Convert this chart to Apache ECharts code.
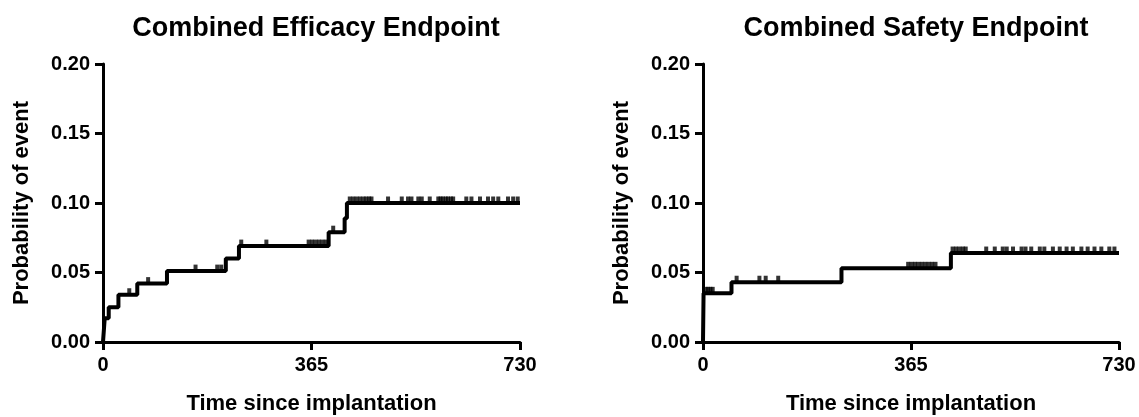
<!DOCTYPE html>
<html>
<head>
<meta charset="utf-8">
<script src="https://cdn.jsdelivr.net/npm/echarts@6/dist/echarts.min.js"></script>
<style>
  html, body { margin: 0; padding: 0; background: #fff; }
  #chart { width: 1139px; height: 417px; }
</style>
</head>
<body>
<div id="chart"></div>
<script>
// tick labels
var xTicks = [0, 365, 730];
var yTicks = [0, 0.05, 0.10, 0.15, 0.20];

// Combined Efficacy Endpoint: step points [day, probability] and censor marks
var efficacySteps = [
    [0, 0], [3, 0.017], [10, 0.025], [27, 0.034], [60, 0.042], [112, 0.051],
    [215, 0.060], [238, 0.069], [395, 0.079], [423, 0.089], [427, 0.100], [730, 0.100]
];
var efficacyCensored = [
    [46, 0.034], [79, 0.042], [162, 0.051], [200, 0.051], [207, 0.051],
    [242, 0.069], [286, 0.069], [360, 0.069], [366, 0.069], [372, 0.069], [378, 0.069], [384, 0.069], [390, 0.069],
    [403, 0.079],
    [432, 0.1], [438, 0.1], [444, 0.1], [450, 0.1], [456, 0.1], [461, 0.1], [466, 0.1], [470, 0.1],
    [499, 0.1], [523, 0.1], [534, 0.1], [540, 0.1], [552, 0.1], [558, 0.1], [572, 0.1],
    [587, 0.1], [591, 0.1], [595, 0.1], [600, 0.1], [604, 0.1], [609, 0.1], [613, 0.1],
    [636, 0.1], [645, 0.1], [660, 0.1], [674, 0.1], [683, 0.1], [692, 0.1], [709, 0.1], [718, 0.1], [726, 0.1]
];

// Combined Safety Endpoint
var safetySteps = [
    [0, 0], [1, 0.035], [50, 0.043], [243, 0.053], [435, 0.064], [730, 0.064]
];
var safetyCensored = [
    [5, 0.035], [9, 0.035], [13, 0.035], [17, 0.035],
    [59, 0.043], [99, 0.043], [110, 0.043], [132, 0.043],
    [360, 0.053], [366, 0.053], [372, 0.053], [378, 0.053], [384, 0.053], [390, 0.053], [396, 0.053], [402, 0.053], [408, 0.053],
    [438, 0.064], [444, 0.064], [450, 0.064], [456, 0.064], [461, 0.064], [497, 0.064], [512, 0.064],
    [526, 0.064], [533, 0.064], [544, 0.064], [559, 0.064], [566, 0.064], [576, 0.064], [591, 0.064],
    [599, 0.064], [614, 0.064], [626, 0.064], [638, 0.064], [649, 0.064], [664, 0.064], [675, 0.064],
    [687, 0.064], [699, 0.064], [713, 0.064], [722, 0.064]
];

var FONT = '"Liberation Sans", Arial, Helvetica, sans-serif';

function xAxisFor(idx) {
    return {
        type: 'value', gridIndex: idx,
        min: xTicks[0], max: xTicks[xTicks.length - 1], interval: xTicks[1] - xTicks[0],
        name: 'Time since implantation', nameLocation: 'middle', nameGap: 51,
        nameTextStyle: { color: '#000', fontSize: 22, fontWeight: 'bold', fontFamily: FONT },
        axisLine: { lineStyle: { color: '#000', width: 3 } },
        axisTick: { length: 8, lineStyle: { color: '#000', width: 3 } },
        axisLabel: { color: '#000', fontSize: 20, fontWeight: 'bold', fontFamily: FONT, margin: 13 },
        splitLine: { show: false }
    };
}

function yAxisFor(idx) {
    return {
        type: 'value', gridIndex: idx,
        min: yTicks[0], max: yTicks[yTicks.length - 1], interval: yTicks[1] - yTicks[0],
        name: 'Probability of event', nameLocation: 'middle', nameGap: 70,
        nameTextStyle: { color: '#000', fontSize: 22, fontWeight: 'bold', fontFamily: FONT },
        axisLine: { show: true, lineStyle: { color: '#000', width: 3 } },
        axisTick: { show: true, length: 8, lineStyle: { color: '#000', width: 3 } },
        axisLabel: {
            color: '#000', fontSize: 20, fontWeight: 'bold', fontFamily: FONT, margin: 13,
            formatter: function (v) { return v.toFixed(2); }
        },
        splitLine: { show: false }
    };
}

function stepSeries(idx, data) {
    return {
        type: 'line', step: 'end', xAxisIndex: idx, yAxisIndex: idx,
        data: data, showSymbol: false, silent: true,
        lineStyle: { color: '#000', width: 4 }
    };
}

function censorSeries(idx, data) {
    return {
        type: 'scatter', xAxisIndex: idx, yAxisIndex: idx, data: data,
        symbol: 'rect', symbolSize: [4, 7], symbolOffset: [0, -3],
        itemStyle: { color: '#000' }, silent: true, z: 3
    };
}

var chart = echarts.init(document.getElementById('chart'));
chart.setOption({
    backgroundColor: '#fff',
    animation: false,
    title: [
        { text: 'Combined Efficacy Endpoint', left: 311, top: 10, textAlign: 'center',
          textStyle: { color: '#000', fontSize: 27, fontWeight: 'bold', fontFamily: FONT } },
        { text: 'Combined Safety Endpoint', left: 911, top: 10, textAlign: 'center',
          textStyle: { color: '#000', fontSize: 27, fontWeight: 'bold', fontFamily: FONT } }
    ],
    grid: [
        { left: 103, top: 64, width: 417, height: 278, outerBoundsMode: 'none' },
        { left: 703, top: 64, width: 416, height: 278, outerBoundsMode: 'none' }
    ],
    xAxis: [xAxisFor(0), xAxisFor(1)],
    yAxis: [yAxisFor(0), yAxisFor(1)],
    series: [
        stepSeries(0, efficacySteps),
        censorSeries(0, efficacyCensored),
        stepSeries(1, safetySteps),
        censorSeries(1, safetyCensored)
    ]
});
</script>
</body>
</html>
